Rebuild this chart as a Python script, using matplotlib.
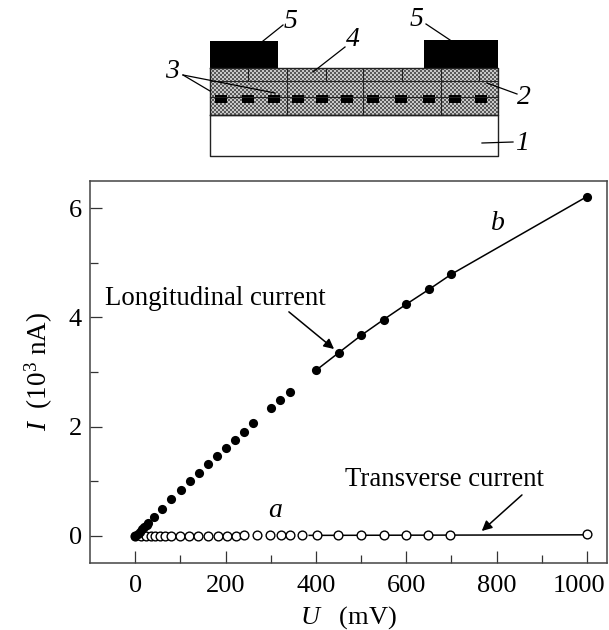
import numpy as np
import matplotlib
matplotlib.use('Agg')
import matplotlib.pyplot as plt
from matplotlib.transforms import ScaledTranslation

plt.rcParams['font.family'] = ['Liberation Serif', 'DejaVu Serif']
plt.rcParams['mathtext.fontset'] = 'custom'
plt.rcParams['mathtext.rm'] = 'Liberation Serif'
plt.rcParams['mathtext.it'] = 'Liberation Serif:italic'

# Longitudinal current (b)
u_long = [0, 5, 10, 15, 20, 25, 28, 41, 60, 80, 101, 122, 142, 162, 181, 200, 220,
          240, 260, 300, 321, 342, 400, 450, 500, 550, 600, 650, 700, 1000]
i_long = [0, 0.04, 0.08, 0.12, 0.16, 0.2, 0.23, 0.34, 0.49, 0.67, 0.84, 1.0, 1.16, 1.32,
          1.47, 1.61, 1.76, 1.91, 2.06, 2.34, 2.48, 2.63, 3.03, 3.35, 3.67, 3.96,
          4.24, 4.51, 4.79, 6.21]
fit_u_long = [400, 450, 500, 550, 600, 650, 700, 1000]
fit_i_long = [3.03, 3.35, 3.67, 3.96, 4.24, 4.51, 4.79, 6.21]

# Transverse current (a)
u_trans = [0, 12, 24, 34, 44, 55, 66, 78, 98, 119, 139, 161, 182, 203, 222, 240, 270,
           298, 322, 343, 370, 402, 448, 500, 550, 599, 648, 697, 1000]
i_trans = [0, 0, 0, 0, 0, 0, 0, 0, 0, -0.01, 0, 0, 0, 0, 0, 0.01, 0.01,
           0.01, 0.01, 0.01, 0.01, 0.01, 0.01, 0.01, 0.01, 0.01, 0.01, 0.01, 0.03]
fit_u_trans = [385, 1000]
fit_i_trans = [0.01, 0.02]

x_ticks = [0, 200, 400, 600, 800, 1000]
y_ticks = [0, 2, 4, 6]

W, H = 609, 630
fig = plt.figure(figsize=(W / 100, H / 100), dpi=100)
ax = fig.add_axes([90 / W, 1 - 562.7 / H, (606.7 - 90) / W, (562.7 - 180.7) / H])

ax.plot(fit_u_long, fit_i_long, color='black', lw=1.1, zorder=2)
ax.plot(fit_u_trans, fit_i_trans, color='black', lw=1.1, zorder=2)
ax.plot(u_trans, i_trans, 'o', mfc='white', mec='black', ms=6.3, mew=1.0, zorder=3)
ax.plot(u_long, i_long, 'o', color='black', ms=6.6, mew=0, zorder=4)

ax.set_xlim(-100.3, 1043.6)
ax.set_ylim(-0.49, 6.5)
ax.set_xticks(x_ticks)
ax.set_yticks(y_ticks)
ax.set_xticks(np.arange(100, 1000, 200), minor=True)
ax.set_yticks([1, 3, 5], minor=True)
ax.tick_params(which='major', direction='in', length=8.5, width=0.9, color='#333333',
               labelsize=19, top=False, right=False)
ax.tick_params(which='minor', direction='in', length=5.5, width=0.9, color='#333333',
               top=False, right=False)
ax.tick_params(axis='x', which='major', pad=9)
ax.tick_params(axis='y', which='major', pad=6)
for s in ax.spines.values():
    s.set_linewidth(1.1)
    s.set_color('#444444')

# last x label sits a bit left of its tick, so that it stays inside the picture
last = ax.get_xticklabels()[-1]
last.set_transform(last.get_transform() + ScaledTranslation(-8 / 100, 0, fig.dpi_scale_trans))

ax.set_xlabel('$U$   (mV)', fontsize=19, labelpad=5)
ax.set_ylabel('$I$  (10$^{3}$ nA)', fontsize=19.5, labelpad=10)

ax.text(177, 4.35, 'Longitudinal current', fontsize=19.3, ha='center', va='center')
ax.text(684, 1.03, 'Transverse current', fontsize=19.3, ha='center', va='center')
ax.annotate('', xy=(440, 3.42), xytext=(340, 4.1),
            arrowprops=dict(arrowstyle='-|>', color='black', lw=1.1,
                            shrinkA=0, shrinkB=0, mutation_scale=15))
ax.annotate('', xy=(767, 0.09), xytext=(856, 0.75),
            arrowprops=dict(arrowstyle='-|>', color='black', lw=1.1,
                            shrinkA=0, shrinkB=0, mutation_scale=15))
ax.text(803, 5.72, 'b', style='italic', fontsize=20, ha='center', va='center')
ax.text(309, 0.46, 'a', style='italic', fontsize=20, ha='center', va='center')

# Device sketch on top, drawn in pixel coordinates
sk = fig.add_axes([0, 0, 1, 1], facecolor='none')
sk.axis('off')

yy, xx = np.indices((47, 288))
tile = ((xx // 2 + yy // 2) % 2) * 110 + 90
sk.imshow(tile[:13], extent=(210, 498, 81, 68), cmap='gray', vmin=0, vmax=255,
          interpolation='nearest', aspect='auto', zorder=1)
sk.imshow(tile[:34], extent=(210, 498, 115, 81), cmap='gray', vmin=0, vmax=255,
          interpolation='nearest', aspect='auto', zorder=1)
sk.set_xlim(0, W)
sk.set_ylim(H, 0)

sk.plot([210, 498, 498, 210, 210], [115, 115, 156, 156, 115], color='#222222', lw=1)
sk.plot([210, 498, 498, 210, 210], [68, 68, 115, 115, 68], color='#222222', lw=1)
sk.plot([210, 498], [81, 81], color='#222222', lw=0.8)
sk.plot([210, 498], [97, 97], color='#222222', lw=0.8)
sk.vlines([286.7, 363.3, 440.7], 81, 115, color='#222222', lw=0.8)
sk.vlines([248.3, 286.7, 325.7, 363.3, 402.3, 440.7, 479], 68, 81, color='#222222', lw=0.8)
sk.fill([210, 278, 278, 210], [41, 41, 68, 68], color='black', lw=0)
sk.fill([423.5, 498, 498, 423.5], [40, 40, 68, 68], color='black', lw=0)

dot_x = [221, 248, 274, 298, 322, 347, 373, 401, 429, 455, 481]
for dx in dot_x:
    sk.fill([dx - 6, dx + 6, dx + 6, dx - 6], [95, 95, 102.5, 102.5], color='black', lw=0)

leaders = [
    ([263, 283], [41, 25]), ([426, 450], [24, 40]), ([313, 345], [72, 47]),
    ([183, 210], [75, 91]), ([183, 275], [75, 93]), ([487, 517], [83, 94]),
    ([482, 513], [143, 142]),
]
for lx, ly in leaders:
    sk.plot(lx, ly, color='black', lw=0.9)

part_labels = [('5', 291, 22), ('5', 416, 20), ('4', 353, 39), ('3', 172, 71),
               ('2', 524, 97), ('1', 522, 143)]
for txt, px, py in part_labels:
    sk.text(px, py, txt, style='italic', fontsize=20, ha='center', va='center')

fig.savefig('out.png', dpi=100)
